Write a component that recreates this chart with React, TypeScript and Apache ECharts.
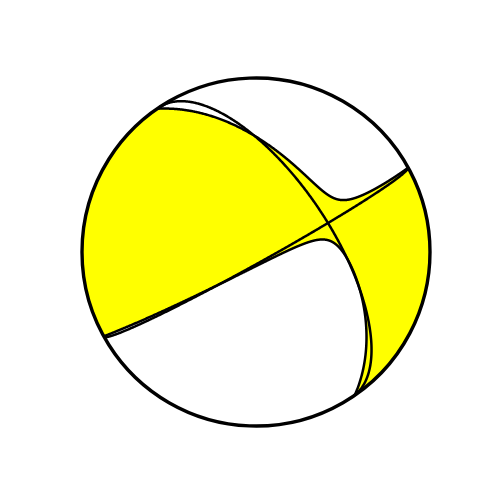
import React, { useEffect, useRef } from "react";
import * as echarts from "echarts";

// Principal axes of the moment tensor: [T, P] (degrees)
const axisNames = ["T", "P"];
const axisTrend = [291.4, 187.0];
const axisPlunge = [31.2, 22.4];
// Eigenvalues [T, B, P] (normalised)
const eigenValues = [1.0, 0.03, -1.05];
// Colours: compressional, dilatational, lines
const palette = ["#ffff00", "#ffffff", "#000000"];

type V3 = [number, number, number];
type P2 = [number, number];
const D2R = Math.PI / 180;
const TWO_PI = Math.PI * 2;

const dot = (a: V3, b: V3) => a[0] * b[0] + a[1] * b[1] + a[2] * b[2];
const add = (a: V3, b: V3): V3 => [a[0] + b[0], a[1] + b[1], a[2] + b[2]];
const scl = (a: V3, k: number): V3 => [a[0] * k, a[1] * k, a[2] * k];
const cross = (a: V3, b: V3): V3 => [
  a[1] * b[2] - a[2] * b[1],
  a[2] * b[0] - a[0] * b[2],
  a[0] * b[1] - a[1] * b[0],
];
const unit = (a: V3): V3 => scl(a, 1 / Math.sqrt(dot(a, a)));
const mod2pi = (x: number) => ((x % TWO_PI) + TWO_PI) % TWO_PI;

// (East, North, Down) vector from trend/plunge
function axisVec(trend: number, plunge: number): V3 {
  const t = trend * D2R;
  const p = plunge * D2R;
  return [Math.cos(p) * Math.sin(t), Math.cos(p) * Math.cos(t), Math.sin(p)];
}

// Lambert equal-area, lower hemisphere
function project(v: V3): P2 {
  let [e, n, d] = v;
  if (d < 0) {
    e = -e;
    n = -n;
    d = -d;
  }
  const k = 1 / Math.sqrt(1 + d);
  return [e * k, n * k];
}

function buildGeometry() {
  const T = unit(axisVec(axisTrend[0], axisPlunge[0]));
  const P0 = axisVec(axisTrend[1], axisPlunge[1]);
  const P = unit(add(P0, scl(T, -dot(P0, T))));
  const B = unit(cross(T, P));
  const [lT, lB, lP] = eigenValues;

  // nodal cone around P : lT x^2 + lB y^2 + lP z^2 = 0
  const N = 4000;
  const ca = Math.sqrt(-lP / lT);
  const cb = Math.sqrt(-lP / lB);
  const loop: V3[] = [];
  for (let k = 0; k < N; k++) {
    const t = (TWO_PI * k) / N;
    loop.push(unit(add(add(scl(T, ca * Math.cos(t)), scl(B, cb * Math.sin(t))), P)));
  }

  function region(lp: V3[], axis: V3) {
    const n = lp.length;
    let start = -1;
    for (let k = 0; k < n; k++) {
      const prev = lp[(k - 1 + n) % n];
      if (prev[2] < 0 && lp[k][2] >= 0) {
        start = k;
        break;
      }
    }
    if (start < 0) {
      if (lp[0][2] >= 0) {
        const line = lp.map(project);
        line.push(line[0]);
        return { poly: line, line };
      }
      return null;
    }
    const pts: V3[] = [];
    const pv = lp[(start - 1 + n) % n];
    const cv = lp[start];
    const f = -pv[2] / (cv[2] - pv[2]);
    const entry = unit([pv[0] + (cv[0] - pv[0]) * f, pv[1] + (cv[1] - pv[1]) * f, 0]);
    pts.push(entry);
    let k = start;
    while (lp[k % n][2] >= 0 && k - start < n) {
      pts.push(lp[k % n]);
      k++;
    }
    const lv = lp[(k - 1) % n];
    const nv = lp[k % n];
    const g = lv[2] / (lv[2] - nv[2]);
    const exit = unit([lv[0] + (nv[0] - lv[0]) * g, lv[1] + (nv[1] - lv[1]) * g, 0]);
    pts.push(exit);
    const line = pts.map(project);
    const aExit = Math.atan2(exit[0], exit[1]);
    const aEntry = Math.atan2(entry[0], entry[1]);
    const aAxis = Math.atan2(axis[0], axis[1]);
    let delta = mod2pi(aEntry - aExit);
    if (mod2pi(aAxis - aExit) > delta) delta -= TWO_PI;
    const arc: P2[] = [];
    const steps = 120;
    for (let i = 1; i < steps; i++) {
      const a = aExit + (delta * i) / steps;
      arc.push([Math.sin(a), Math.cos(a)]);
    }
    return { poly: [...line, ...arc], line };
  }

  const regions = [region(loop, P), region(loop.map((v) => scl(v, -1)), scl(P, -1))].filter(
    Boolean
  ) as { poly: P2[]; line: P2[] }[];

  // best double-couple nodal planes, drawn as strike/dip ellipses
  const planes: P2[][] = [unit(add(T, P)), unit(add(T, scl(P, -1)))].map((nrm0) => {
    const nrm = nrm0[2] < 0 ? scl(nrm0, -1) : nrm0;
    const poleTrend = Math.atan2(nrm[0], nrm[1]);
    const polePlunge = Math.asin(Math.min(1, nrm[2]));
    const dip = Math.PI / 2 - polePlunge;
    const strike = poleTrend + Math.PI / 2;
    const m = (Math.PI / 2 - dip) / (Math.PI / 2);
    const sv: P2 = [Math.sin(strike), Math.cos(strike)];
    const dv: P2 = [Math.cos(strike), -Math.sin(strike)];
    const out: P2[] = [];
    const M = 400;
    for (let i = 0; i <= M; i++) {
      const s = (Math.PI * i) / M;
      out.push([
        Math.cos(s) * sv[0] + m * Math.sin(s) * dv[0],
        Math.cos(s) * sv[1] + m * Math.sin(s) * dv[1],
      ]);
    }
    return out;
  });
  return { regions, planes };
}

export default function App() {
  const ref = useRef<HTMLDivElement>(null);
  useEffect(() => {
    document.body.style.margin = "0";
    const chart = echarts.init(ref.current!, undefined, { renderer: "svg" });
    const geo = buildGeometry();
    const option = {
      animation: false,
      backgroundColor: "#ffffff",
      grid: { left: 82, top: 78, width: 348, height: 348 },
      xAxis: { type: "value", min: -1, max: 1, show: false },
      yAxis: { type: "value", min: -1, max: 1, show: false },
      series: [
        {
          type: "custom",
          coordinateSystem: "cartesian2d",
          clip: false,
          data: [[0, 0]],
          renderItem: (_params: any, api: any) => {
            const c = api.coord([0, 0]);
            const r = api.coord([1, 0])[0] - c[0];
            const px = (pts: P2[]) => pts.map((p) => api.coord(p));
            const children: any[] = [];
            children.push({
              type: "circle",
              shape: { cx: c[0], cy: c[1], r },
              style: { fill: palette[0], stroke: "none" },
            });
            geo.regions.forEach((rg) => {
              children.push({
                type: "polygon",
                shape: { points: px(rg.poly) },
                style: { fill: palette[1], stroke: "none" },
              });
            });
            geo.regions.forEach((rg) => {
              children.push({
                type: "polyline",
                shape: { points: px(rg.line) },
                style: { stroke: palette[2], lineWidth: 2.5, fill: null },
              });
            });
            geo.planes.forEach((pl) => {
              children.push({
                type: "polyline",
                shape: { points: px(pl) },
                style: { stroke: palette[2], lineWidth: 2.5, fill: null },
              });
            });
            children.push({
              type: "circle",
              shape: { cx: c[0], cy: c[1], r },
              style: { fill: null, stroke: palette[2], lineWidth: 3.4 },
            });
            return { type: "group", children };
          },
        },
      ],
    };
    chart.setOption(option as any);
    return () => chart.dispose();
  }, []);
  return <div ref={ref} style={{ width: 500, height: 500 }} />;
}
